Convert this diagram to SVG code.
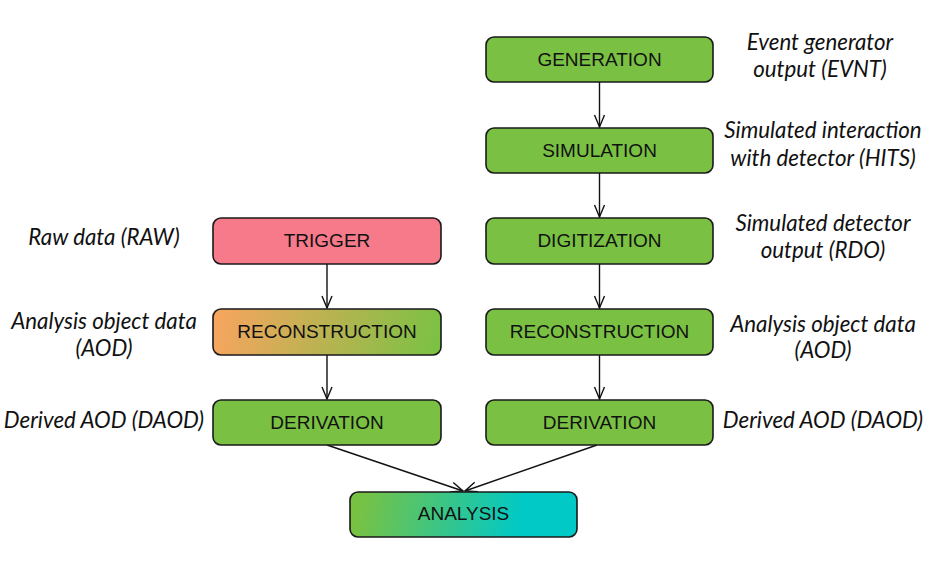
<svg xmlns="http://www.w3.org/2000/svg" width="929" height="585" viewBox="0 0 929 585">
<style>
.box{stroke:#1a1a1a;stroke-width:1.6}
.g{fill:#7AC143}
.bt{font-family:"Liberation Sans",Arial,sans-serif;font-size:19px;fill:#111;text-anchor:middle}
.lb{font-family:Lato,"Open Sans",sans-serif;font-style:italic;font-size:22.3px;fill:#111;text-anchor:middle}
.c{stroke:#111;stroke-width:1.4;fill:none;marker-end:url(#ah)}
</style>
<defs>
<marker id="ah" markerUnits="userSpaceOnUse" markerWidth="14" markerHeight="12" refX="12" refY="5" orient="auto" overflow="visible">
<path d="M0,0 L12,5 L0,10" fill="none" stroke="#111" stroke-width="1.4"/>
</marker>
<linearGradient id="recoG" gradientUnits="userSpaceOnUse" x1="213" y1="309" x2="441" y2="355">
<stop offset="0" stop-color="#F9A45F"/>
<stop offset="1" stop-color="#78C243"/>
</linearGradient>
<linearGradient id="anaG" gradientUnits="userSpaceOnUse" x1="350" y1="492" x2="577" y2="537">
<stop offset="0.05" stop-color="#78C243"/>
<stop offset="0.75" stop-color="#00C9C6"/>
</linearGradient>
</defs>
<rect width="929" height="585" fill="#fff"/>
<g id="connectors">
<line class="c" x1="599.5" y1="82" x2="599.5" y2="127"/>
<line class="c" x1="599.5" y1="173" x2="599.5" y2="217"/>
<line class="c" x1="599.5" y1="264" x2="599.5" y2="308"/>
<line class="c" x1="599.5" y1="355" x2="599.5" y2="399"/>
<line class="c" x1="327" y1="264" x2="327" y2="308"/>
<line class="c" x1="327" y1="355" x2="327" y2="399"/>
<line class="c" x1="327" y1="445" x2="463" y2="491"/>
<line class="c" x1="597" y1="445" x2="465" y2="491"/>
</g>
<g id="generation"><rect class="box g" x="486" y="37" width="227" height="45" rx="8"/><text class="bt" x="599.5" y="66">GENERATION</text></g>
<g id="simulation"><rect class="box g" x="486" y="128" width="227" height="45" rx="8"/><text class="bt" x="599.5" y="157">SIMULATION</text></g>
<g id="digitization"><rect class="box g" x="486" y="218" width="227" height="46" rx="8"/><text class="bt" x="599.5" y="247">DIGITIZATION</text></g>
<g id="reconstruction-mc"><rect class="box g" x="486" y="309" width="227" height="46" rx="8"/><text class="bt" x="599.5" y="338">RECONSTRUCTION</text></g>
<g id="derivation-mc"><rect class="box g" x="486" y="400" width="227" height="45" rx="8"/><text class="bt" x="599.5" y="429">DERIVATION</text></g>
<g id="trigger"><rect class="box" fill="#F77A8B" x="213" y="218" width="228" height="46" rx="8"/><text class="bt" x="327" y="247">TRIGGER</text></g>
<g id="reconstruction-data"><rect class="box" fill="url(#recoG)" x="213" y="309" width="228" height="46" rx="8"/><text class="bt" x="327" y="338">RECONSTRUCTION</text></g>
<g id="derivation-data"><rect class="box g" x="213" y="400" width="228" height="45" rx="8"/><text class="bt" x="327" y="429">DERIVATION</text></g>
<g id="analysis"><rect class="box" fill="url(#anaG)" x="350" y="492" width="227" height="45" rx="8"/><text class="bt" x="463.5" y="520">ANALYSIS</text></g>
<g id="labels">
<text class="lb" x="820" y="50">Event generator</text>
<text class="lb" x="820" y="77">output (EVNT)</text>
<text class="lb" x="823" y="138">Simulated interaction</text>
<text class="lb" x="823" y="166">with detector (HITS)</text>
<text class="lb" x="823" y="231">Simulated detector</text>
<text class="lb" x="823" y="258">output (RDO)</text>
<text class="lb" x="823" y="332">Analysis object data</text>
<text class="lb" x="823" y="358">(AOD)</text>
<text class="lb" x="823" y="428">Derived AOD (DAOD)</text>
<text class="lb" x="104" y="245">Raw data (RAW)</text>
<text class="lb" x="104" y="329">Analysis object data</text>
<text class="lb" x="104" y="356">(AOD)</text>
<text class="lb" x="104" y="428">Derived AOD (DAOD)</text>
</g>
</svg>
